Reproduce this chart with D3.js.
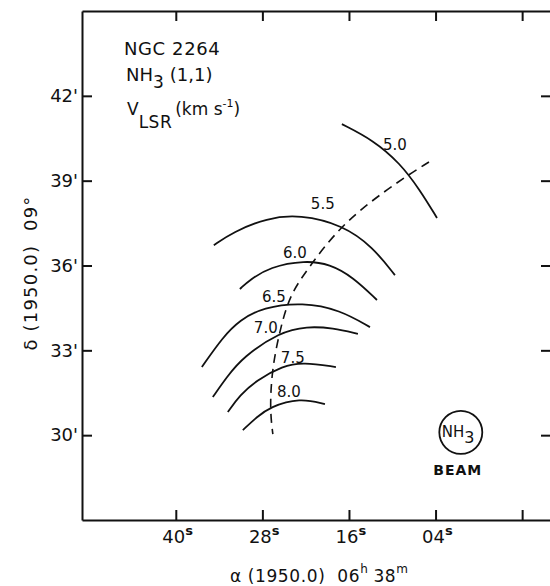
<!DOCTYPE html>
<html>
<head>
<meta charset="utf-8">
<script src="https://cdn.jsdelivr.net/npm/d3@7"></script>
<style>
  body { margin: 0; background: #fff; }
  svg { display: block; }
  text { font-family: 'DejaVu Sans', sans-serif; fill: #111; white-space: pre; }
</style>
</head>
<body>
<svg id="chart" width="550" height="586"></svg>
<script>
'use strict';

// RA in seconds past 06h38m (negative = 06h37m), Dec in arcmin past 09°
const raTicks = [40, 28, 16, 4, -8];
const raTickLabels = ['40', '28', '16', '04', ''];
const decTicks = [30, 33, 36, 39, 42];
const decTickLabels = ["30'", "33'", "36'", "39'", "42'"];

const velocities = ['5.0', '5.5', '6.0', '6.5', '7.0', '7.5', '8.0'];

const arc50 = [[16.98, 41.00], [12.68, 40.44], [8.93, 39.62], [6.16, 38.67], [3.80, 37.68]];
const arc55 = [[34.73, 36.72], [32.09, 37.18], [27.38, 37.68], [22.80, 37.80], [16.84, 37.43], [12.68, 36.65], [9.63, 35.66]];
const arc60 = [[31.12, 35.17], [29.74, 35.49], [26.96, 35.95], [22.11, 36.18], [18.64, 36.05], [15.45, 35.59], [12.12, 34.78]];
const arc65 = [[36.39, 32.41], [33.48, 33.47], [31.12, 34.07], [27.93, 34.52], [22.39, 34.70], [17.25, 34.43], [13.09, 33.82]];
const arc70 = [[34.87, 31.35], [32.93, 32.06], [30.71, 32.76], [25.58, 33.65], [21.83, 33.85], [18.22, 33.79], [14.76, 33.58]];
const arc75 = [[32.79, 30.82], [31.12, 31.42], [28.77, 31.95], [25.16, 32.45], [22.39, 32.58], [17.81, 32.41]];
const arc80 = [[30.71, 30.18], [28.77, 30.64], [26.96, 31.00], [22.80, 31.32], [19.33, 31.10]];
const arcs = [arc50, arc55, arc60, arc65, arc70, arc75, arc80];

// label anchor (start of text, baseline)
const labelPos = [[11.29, 40.08], [21.28, 38.0], [25.16, 36.26], [28.07, 34.71], [29.18, 33.61], [25.44, 32.55], [25.99, 31.35]];

// ridge of the velocity gradient (dashed)
const ridge = [[4.91, 39.66], [8.93, 39.02], [16.84, 37.54], [21.83, 35.84], [24.19, 34.96], [25.58, 33.72], [26.69, 32.30], [26.96, 30.89], [26.55, 30.04]];

const beamCenter = [0.5, 30.1];
const beamDiameter = 1.52;

const svg = d3.select('#chart');

const x = d3.scaleLinear().domain([53, -12]).range([82, 551]);
const y = d3.scaleLinear().domain([27, 45]).range([520, 11]);

function style(g) {
  g.attr('font-family', 'DejaVu Sans').attr('font-size', 18);
  g.select('.domain').attr('stroke', '#111').attr('stroke-width', 2);
  g.selectAll('.tick line').attr('stroke', '#111').attr('stroke-width', 2);
  g.selectAll('.tick text').attr('fill', '#111');
}

// bottom
const gb = svg.append('g')
  .attr('transform', 'translate(0,' + y(27) + ')')
  .call(d3.axisBottom(x).tickValues(raTicks).tickSizeInner(-10).tickSizeOuter(0).tickPadding(10)
    .tickFormat((d, i) => raTickLabels[i]))
  .call(style);

gb.selectAll('.tick text').each(function (d, i) {
  const t = d3.select(this);
  if (!raTickLabels[i]) return;
  t.text(null).attr('text-anchor', 'start').attr('x', -14);
  t.append('tspan').text(raTickLabels[i]);
  t.append('tspan').attr('dy', '-0.6em').attr('font-size', 13).attr('font-weight', 'bold').text('s');
});

svg.append('g')
  .attr('transform', 'translate(0,' + y(45) + ')')
  .call(d3.axisTop(x).tickValues(raTicks).tickSizeInner(-10).tickSizeOuter(0).tickFormat(''))
  .call(style);

svg.append('g')
  .attr('transform', 'translate(' + x(53) + ',0)')
  .call(d3.axisLeft(y).tickValues(decTicks).tickSizeInner(-10).tickSizeOuter(0).tickPadding(4)
    .tickFormat((d, i) => decTickLabels[i]))
  .call(style);

svg.append('g')
  .attr('transform', 'translate(' + x(-12) + ',0)')
  .call(d3.axisRight(y).tickValues(decTicks).tickSizeInner(-10).tickSizeOuter(0).tickFormat(''))
  .call(style);

// contours
const line = d3.line()
  .x(d => x(d[0]))
  .y(d => y(d[1]))
  .curve(d3.curveBasis);

svg.append('g')
  .selectAll('path')
  .data(arcs)
  .enter().append('path')
  .attr('d', line)
  .attr('fill', 'none')
  .attr('stroke', '#111')
  .attr('stroke-width', 1.8);

svg.append('path')
  .datum(ridge)
  .attr('d', line)
  .attr('fill', 'none')
  .attr('stroke', '#111')
  .attr('stroke-width', 1.6)
  .attr('stroke-dasharray', '9,6');

svg.append('g')
  .selectAll('text')
  .data(velocities)
  .enter().append('text')
  .attr('x', (d, i) => x(labelPos[i][0]))
  .attr('y', (d, i) => y(labelPos[i][1]))
  .attr('font-size', 15)
  .text(d => d);

// beam
const beam = svg.append('g');
beam.append('circle')
  .attr('cx', x(beamCenter[0]))
  .attr('cy', y(beamCenter[1]))
  .attr('r', y(0) - y(beamDiameter / 2))
  .attr('fill', 'none')
  .attr('stroke', '#111')
  .attr('stroke-width', 1.8);

const bt = beam.append('text')
  .attr('x', x(beamCenter[0]) - 19)
  .attr('y', y(beamCenter[1]) + 5)
  .attr('font-size', 15);
bt.append('tspan').text('NH');
bt.append('tspan').attr('dy', 6).attr('font-size', 16).text('3');

beam.append('text')
  .attr('x', x(beamCenter[0]) - 3)
  .attr('y', y(beamCenter[1]) + 43)
  .attr('text-anchor', 'middle')
  .attr('font-size', 14)
  .attr('font-weight', 'bold')
  .attr('letter-spacing', 1)
  .text('BEAM');

// title block
const title = svg.append('g').attr('font-size', 18);
title.append('text').attr('x', 124).attr('y', 55).attr('letter-spacing', 0.6).text('NGC 2264');

const t2 = title.append('text').attr('x', 126).attr('y', 81);
t2.append('tspan').text('NH');
t2.append('tspan').attr('dy', 7).attr('font-size', 17).text('3');
t2.append('tspan').attr('dy', -7).attr('dx', 6).text('(1,1)');

const t3 = title.append('text').attr('x', 127).attr('y', 115).attr('font-size', 17);
t3.append('tspan').text('V');
t3.append('tspan').attr('dy', 13).attr('letter-spacing', 0.5).text('LSR');
t3.append('tspan').attr('dy', -13).attr('dx', 3).text('(km s');
t3.append('tspan').attr('dy', -8).attr('font-size', 11).text('-1');
t3.append('tspan').attr('dy', 8).text(')');

// axis titles
const xt = svg.append('text').attr('x', 230).attr('y', 582).attr('font-size', 17).attr('letter-spacing', 0.6);
xt.append('tspan').text('\u03b1 (1950.0)  06');
xt.append('tspan').attr('dy', -9).attr('font-size', 12).text('h');
xt.append('tspan').attr('dy', 9).attr('dx', 5).text('38');
xt.append('tspan').attr('dy', -9).attr('font-size', 12).text('m');

svg.append('text')
  .attr('transform', 'translate(37,273) rotate(-90)')
  .attr('text-anchor', 'middle')
  .attr('font-size', 18)
  .attr('letter-spacing', 1.2)
  .text('\u03b4 (1950.0)  09\u00b0');
</script>
</body>
</html>
